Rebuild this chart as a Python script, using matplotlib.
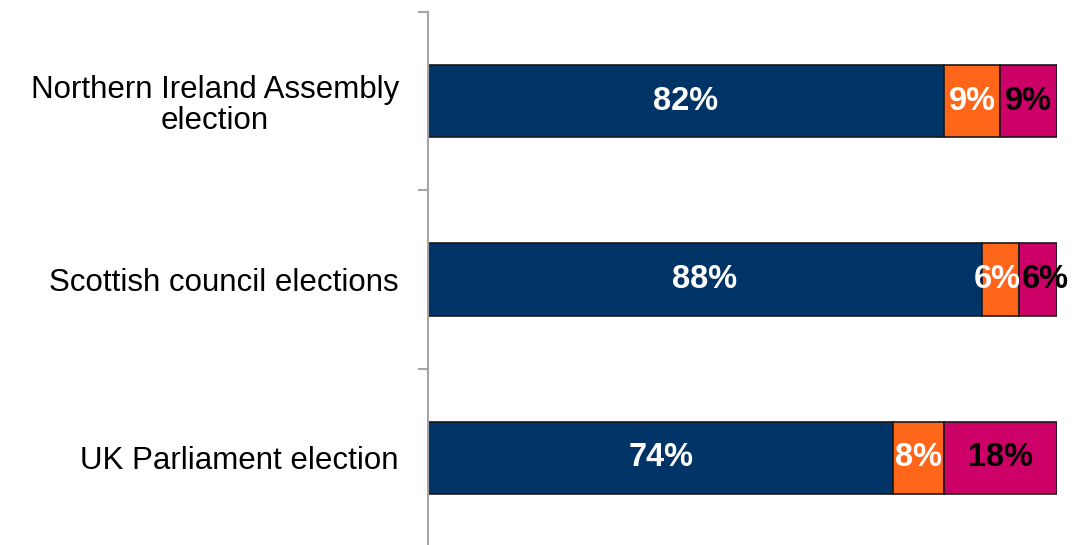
import numpy as np
import matplotlib.pyplot as plt

plt.rcParams['font.family'] = ['Liberation Sans', 'DejaVu Sans']

# Share of responses per election, stacked left to right
categories = ['Northern Ireland Assembly\nelection',
              'Scottish council elections',
              'UK Parliament election']
part1 = [82, 88, 74]
part2 = [9, 6, 8]
part3 = [9, 6, 18]

colors = ['#003366', '#FF6619', '#CC0066']
text_colors = ['white', 'white', 'black']

fig = plt.figure(figsize=(10.79, 5.45), dpi=100)
ax = fig.add_axes([428 / 1079, -2 / 545, (1057 - 428) / 1079, (547 - 12) / 545])

y = np.arange(len(categories))
left = np.zeros(len(categories))
for k, (vals, c, tc) in enumerate(zip([part1, part2, part3], colors, text_colors)):
    vals = np.array(vals, dtype=float)
    bars = ax.barh(y, vals, left=left, height=0.405, color=c,
                   edgecolor='#1a1a1a', linewidth=1.2)
    for b, v in zip(bars, vals):
        x0, w = b.get_x(), b.get_width()
        yc = b.get_y() + b.get_height() / 2
        # narrow segments: push the two small labels apart so they don't collide
        if w < 7 and k == 1:
            xt, ha = x0 + w + 0.3, 'right'
        elif w < 7 and k == 2:
            xt, ha = x0 + 0.4, 'left'
        else:
            xt, ha = x0 + w / 2, 'center'
        ax.text(xt, yc, f'{v:.0f}%', ha=ha, va='center', color=tc,
                fontsize=23.5, fontweight='bold')
    left += vals

ax.set_xlim(0, 100)
ax.set_ylim(len(categories) - 0.5, -0.5)

# category ticks sit between the bars, labels at the bar centres
ax.set_yticks(np.arange(-0.5, len(categories)), minor=False)
ax.set_yticklabels([])
ax.set_yticks(y, minor=True)
ax.set_yticklabels(categories, minor=True, fontsize=22.5,
                   multialignment='center', linespacing=1.05)
ax.tick_params(axis='y', which='major', length=7, width=1.5, color='#a6a6a6')
ax.tick_params(axis='y', which='minor', length=0, pad=21)

ax.set_xticks([])
for s in ['top', 'right', 'bottom']:
    ax.spines[s].set_visible(False)
ax.spines['left'].set_color('#a6a6a6')
ax.spines['left'].set_linewidth(1.5)

fig.savefig('out.png', dpi=100)
